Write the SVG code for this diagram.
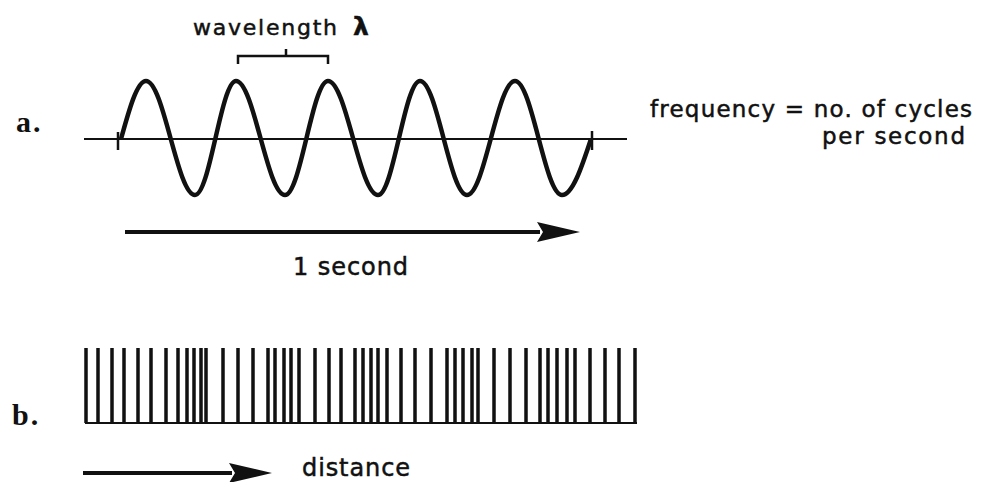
<svg xmlns="http://www.w3.org/2000/svg" width="997" height="482" viewBox="0 0 997 482">
<style>
.txt{font-family:"DejaVu Sans","Liberation Sans",sans-serif;fill:#111;stroke:#111;stroke-width:0.5;}
.lbl{font-family:"Liberation Serif","DejaVu Serif",serif;font-weight:bold;fill:#111;font-size:30px;}
.ln{stroke:#111;fill:none;}
.bar{stroke:#111;stroke-width:3.5;fill:none;}
</style>
<defs>
<marker id="head" markerUnits="userSpaceOnUse" viewBox="-5 -12 50 24" markerWidth="50" markerHeight="24" refX="0" refY="0" orient="auto" overflow="visible">
<path d="M-3,-10 L40,0 L-3,10 L3,0 Z" fill="#111"/>
</marker>
</defs>
<rect width="997" height="482" fill="#fff"/>

<g id="label-a"><text class="lbl" x="16" y="132" letter-spacing="2">a.</text></g>
<g id="label-b"><text class="lbl" x="12" y="425" letter-spacing="2">b.</text></g>

<g id="wavelength-label">
<text class="txt" x="193" y="35" font-size="22" textLength="144" lengthAdjust="spacing">wavelength</text>
<text class="txt" x="353" y="35" font-size="25" font-weight="bold">λ</text>
<path class="ln" stroke-width="2.5" d="M238,64 V56 H328 V64 M286,56 V49"/>
</g>

<g id="wave">
<path class="ln" stroke-width="2" d="M84,139 H627"/>
<path class="ln" stroke-width="2.5" d="M118,132 V150 M592,131 V150"/>
<path class="ln" stroke-width="4.5" stroke-linejoin="round" d="M121,139 C129,110 137,81 146,81 C163.8,81 177.2,195 195,195 C209.9,195 221.1,81 236,81 C253.8,81 267.2,195 285,195 C300.6,195 312.4,81 328,81 C346.2,81 359.8,195 378,195 C393.3,195 404.7,81 420,81 C437.1,81 449.9,195 467,195 C484.4,195 497.6,81 515,81 C532.1,81 544.9,195 562,195 C572.5,195 581.8,167 591,139"/>
</g>

<g id="frequency-label">
<text class="txt" x="650" y="117" font-size="23" textLength="322" lengthAdjust="spacing">frequency = no. of cycles</text>
<text class="txt" x="822" y="144" font-size="23" textLength="143" lengthAdjust="spacing">per second</text>
</g>

<g id="time-label"><text class="txt" x="293" y="275" font-size="24" textLength="115" lengthAdjust="spacing">1 second</text></g>

<g id="barcode">
<path class="ln" stroke-width="2" d="M85,423 H637"/>
<path class="bar" d="M86,348V423 M98,348V423 M112,348V423 M124,348V423 M138,348V423 M151,348V423 M166,348V423 M178,348V423 M187,348V423 M194,348V423 M201,348V423 M206,348V423 M223,348V423 M238,348V423 M253,348V423 M268,348V423 M275,348V423 M284,348V423 M291,348V423 M299,348V423 M315,348V423 M329,348V423 M341,348V423 M355,348V423 M363,348V423 M371,348V423 M378,348V423 M387,348V423 M401,348V423 M415,348V423 M431,348V423 M447,348V423 M455,348V423 M463,348V423 M472,348V423 M478,348V423 M494,348V423 M510,348V423 M526,348V423 M540,348V423 M548,348V423 M557,348V423 M567,348V423 M575,348V423 M590,348V423 M605,348V423 M619,348V423 M635,348V423"/>
</g>

<g id="distance-label"><text class="txt" x="302" y="476" font-size="24" textLength="108" lengthAdjust="spacing">distance</text></g>

<g id="connectors">
<path class="ln" stroke-width="4" d="M125,232 H540" marker-end="url(#head)"/>
<path class="ln" stroke-width="4" d="M83,473 H232" marker-end="url(#head)"/>
</g>
</svg>
